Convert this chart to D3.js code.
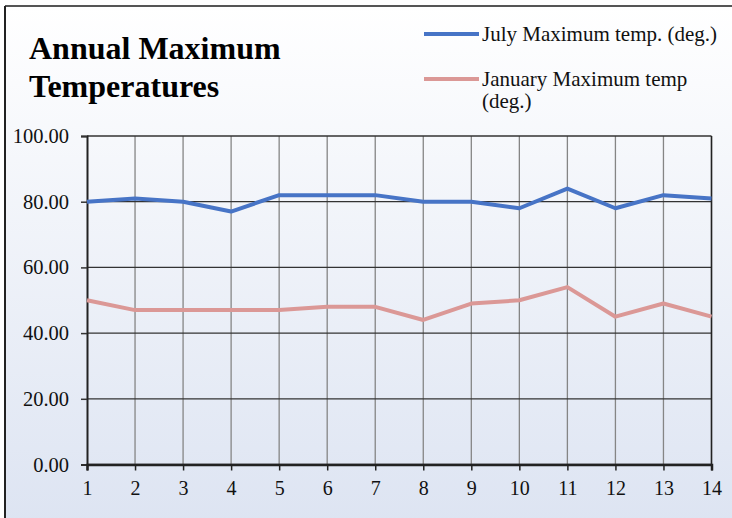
<!DOCTYPE html>
<html>
<head>
<meta charset="utf-8">
<script src="https://cdn.jsdelivr.net/npm/d3@7"></script>
<style>
html,body{margin:0;padding:0;background:#fff;}
svg{display:block;font-family:"Liberation Serif","Times New Roman",serif;}
</style>
</head>
<body>
<svg id="chart" width="732" height="518"></svg>
<script>
const years = [1,2,3,4,5,6,7,8,9,10,11,12,13,14];
const julyMax = [80,81,80,77,82,82,82,80,80,78,84,78,82,81];
const janMax = [50,47,47,47,47,48,48,44,49,50,54,45,49,45];
const yTicks = [0,20,40,60,80,100];
const seriesNames = ["July Maximum temp. (deg.)", "January Maximum temp", "(deg.)"];
const titleLines = ["Annual Maximum", "Temperatures"];

const svg = d3.select("#chart");
const W = 732, H = 518;

const defs = svg.append("defs");
const grad = defs.append("linearGradient").attr("id","bg").attr("x1",0).attr("y1",0).attr("x2",0).attr("y2",1);
grad.append("stop").attr("offset","0%").attr("stop-color","#ffffff");
grad.append("stop").attr("offset","100%").attr("stop-color","#dde4f2");

svg.append("rect").attr("x",5).attr("y",6).attr("width",W).attr("height",H).attr("fill","url(#bg)");
svg.append("line").attr("x1",5).attr("x2",W).attr("y1",6).attr("y2",6).attr("stroke","#555").attr("stroke-width",2);
svg.append("line").attr("x1",5).attr("x2",5).attr("y1",6).attr("y2",H).attr("stroke","#222").attr("stroke-width",2);

const x = d3.scaleLinear().domain([1,14]).range([87,711.5]);
const y = d3.scaleLinear().domain([0,100]).range([464.5,136]);

// vertical grid
svg.append("g").selectAll("line").data(years.slice(1)).join("line")
  .attr("x1",d=>x(d)).attr("x2",d=>x(d)).attr("y1",y(100)).attr("y2",y(0))
  .attr("stroke","#858585").attr("stroke-width",1.3);
// horizontal grid
svg.append("g").selectAll("line").data(yTicks).join("line")
  .attr("x1",x(1)).attr("x2",x(14)).attr("y1",d=>y(d)).attr("y2",d=>y(d))
  .attr("stroke","#333").attr("stroke-width",1.3);

// axes
const yAxis = d3.axisLeft(y).tickValues(yTicks).tickFormat(d3.format(".2f")).tickSize(6).tickPadding(12);
const gy = svg.append("g").attr("transform",`translate(${x(1)},0)`).call(yAxis);
gy.select(".domain").attr("stroke","#222").attr("stroke-width",2);
gy.selectAll(".tick line").attr("stroke","#333").attr("stroke-width",1.5);
gy.selectAll("text").attr("font-size",20.5).attr("fill","#111").attr("font-family","Liberation Serif");

const xAxis = d3.axisBottom(x).tickValues(years).tickFormat(d3.format("d")).tickSize(6).tickPadding(10);
const gx = svg.append("g").attr("transform",`translate(0,${y(0)})`).call(xAxis);
gx.select(".domain").attr("stroke","#222").attr("stroke-width",2.5);
gx.selectAll(".tick line").attr("stroke","#222").attr("stroke-width",1.5);
gx.selectAll("text").attr("font-size",20).attr("fill","#111").attr("font-family","Liberation Serif");

// right border of plot
svg.append("line").attr("x1",x(14)).attr("x2",x(14)).attr("y1",y(100)).attr("y2",y(0)).attr("stroke","#222").attr("stroke-width",1.5);

const line = d3.line().x((d,i)=>x(years[i])).y(d=>y(d));
svg.append("path").datum(janMax).attr("d",line).attr("fill","none").attr("stroke","#DB9896").attr("stroke-width",4).attr("stroke-linejoin","round");
svg.append("path").datum(julyMax).attr("d",line).attr("fill","none").attr("stroke","#4774C6").attr("stroke-width",4).attr("stroke-linejoin","round");

// title
svg.append("text").attr("x",29).attr("y",59).attr("font-size",32).attr("font-weight","bold").attr("fill","#000").text(titleLines[0]);
svg.append("text").attr("x",29).attr("y",97).attr("font-size",32).attr("font-weight","bold").attr("fill","#000").text(titleLines[1]);

// legend
svg.append("line").attr("x1",424).attr("x2",479).attr("y1",34).attr("y2",34).attr("stroke","#4774C6").attr("stroke-width",4);
svg.append("text").attr("x",482).attr("y",41).attr("font-size",21).attr("fill","#111").text(seriesNames[0]);
svg.append("line").attr("x1",424).attr("x2",479).attr("y1",79).attr("y2",79).attr("stroke","#DB9896").attr("stroke-width",4);
svg.append("text").attr("x",482).attr("y",86).attr("font-size",21).attr("fill","#111").text(seriesNames[1]);
svg.append("text").attr("x",482).attr("y",108).attr("font-size",21).attr("fill","#111").text(seriesNames[2]);
</script>
</body>
</html>
